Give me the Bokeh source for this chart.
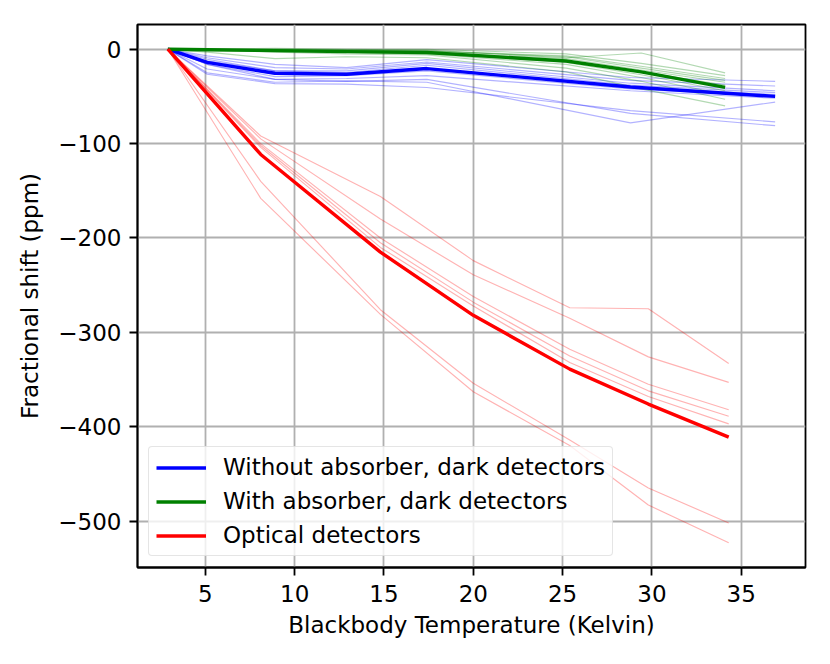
from bokeh.plotting import figure
from bokeh.embed import file_html
from bokeh.resources import INLINE
from bokeh.models import FixedTicker, CustomJSTickFormatter, Range1d, Legend, LegendItem

# ---------------- data ----------------
# Without absorber, dark detectors (blue)
blue_x = [2.9, 5.1, 8.9, 12.9, 17.4, 28.8, 36.9]
blue_thin = [
    [0, -7, -16, -19.5, -11, -30, -34],
    [0, -9, -19.5, -21, -13.5, -33, -39],
    [0, -10.6, -23, -23, -15, -36, -44],
    [0, -12.4, -23, -24.7, -17, -38, -46],
    [0, -14, -26.5, -25.8, -20.5, -40, -48],
    [0, -16, -29, -28, -23, -42, -50],
    [0, -21, -32, -31, -28, -44, -52],
    [0, -25, -35, -33.6, -35, -78, -56],
    [0, -26.5, -36.4, -37, -40.6, -65, -77],
    [0, -16, -32, -34, -32, -68, -81],
]
blue_main = [0, -14, -25.5, -26.5, -20.5, -40, -50]

# With absorber, dark detectors (green)
green_x = [2.9, 5.1, 8.9, 12.9, 17.4, 25.2, 29.4, 34.1]
green_thin = [
    [0, 0, 0, 0, -1, -9, -4, -25],
    [0, 0, 1, 0, 0, -5, -15, -28],
    [0, 0, 0, -1, -2, -7, -18, -31],
    [0, 0, -1, -1, -2, -8, -20, -33],
    [0, -1, -1, -2, -3, -10, -22, -35],
    [0, -1, -1, -2, -3, -12, -24, -38],
    [0, -1, -2, -3, -4, -14, -27, -44],
    [0, -1, -2, -3, -5, -16, -30, -48],
    [0, 0, -3, -5, -6, -20, -34, -53],
    [0, -3, -10, -8, -9, -24, -42, -60],
]
green_main = [0, -0.5, -1.5, -2.5, -3.5, -12.5, -24, -40.5]

# Optical detectors (red)
red_x = [2.9, 8.1, 14.8, 20.0, 25.4, 29.8, 34.3]
red_thin = [
    [0, -92, -156, -224, -274, -275, -333],
    [0, -95, -180, -239, -285, -326, -353],
    [0, -100, -200, -262, -318, -355, -382],
    [0, -102, -205, -268, -325, -362, -389],
    [0, -104, -210, -272, -332, -368, -397],
    [0, -140, -276, -354, -414, -465, -502],
    [0, -158, -281, -363, -420, -483, -523],
]
red_main = [0, -111.5, -215, -282, -339, -376, -411]

labels = ["Without absorber, dark detectors", "With absorber, dark detectors", "Optical detectors"]
x_ticks = [5, 10, 15, 20, 25, 30, 35]
y_ticks = [0, -100, -200, -300, -400, -500]

# ---------------- figure ----------------
FONT = "DejaVu Sans"
FS = "23px"
p = figure(width=814, height=648, output_backend="svg", toolbar_location=None,
           x_range=Range1d(1.2, 38.6), y_range=Range1d(-549.2, 26.2),
           min_border_left=137, min_border_right=9, min_border_top=24, min_border_bottom=81)

p.background_fill_color = "white"
p.border_fill_color = "white"
p.outline_line_color = "black"
p.outline_line_width = 1.8

for ax in (p.xaxis[0], p.yaxis[0]):
    ax.axis_line_width = 1.8
    ax.major_tick_line_width = 1.8
    ax.major_tick_out = 8
    ax.major_tick_in = 0
    ax.minor_tick_out = 0
    ax.minor_tick_in = 0
    ax.major_label_text_font = FONT
    ax.major_label_text_font_size = FS
    ax.major_label_text_color = "black"
    ax.axis_label_text_font = FONT
    ax.axis_label_text_font_size = FS
    ax.axis_label_text_font_style = "normal"
    ax.axis_label_text_color = "black"
    ax.formatter = CustomJSTickFormatter(code="return String(tick).replace('-', '\u2212');")

p.xaxis.ticker = FixedTicker(ticks=x_ticks)
p.yaxis.ticker = FixedTicker(ticks=y_ticks)
p.xaxis.axis_label = "Blackbody Temperature (Kelvin)"
p.yaxis.axis_label = "Fractional shift (ppm)"
p.xaxis.major_label_standoff = 9
p.yaxis.major_label_standoff = 8
p.xaxis.axis_label_standoff = 7
p.yaxis.axis_label_standoff = 12

p.xgrid.ticker = FixedTicker(ticks=x_ticks)
p.ygrid.ticker = FixedTicker(ticks=y_ticks)
p.grid.grid_line_color = "#b0b0b0"
p.grid.grid_line_width = 1.8

# thin lines
for ys in blue_thin:
    p.line(blue_x, ys, line_color="#0000ff", line_width=1.15, line_alpha=0.3)
for ys in green_thin:
    p.line(green_x, ys, line_color="#008000", line_width=1.15, line_alpha=0.3)
for ys in red_thin:
    p.line(red_x, ys, line_color="#ff0000", line_width=1.15, line_alpha=0.3)

# main lines
rb = p.line(blue_x, blue_main, line_color="#0000ff", line_width=3.4)
rg = p.line(green_x, green_main, line_color="#008000", line_width=3.4)
rr = p.line(red_x, red_main, line_color="#ff0000", line_width=3.4)

legend = Legend(items=[LegendItem(label=labels[0], renderers=[rb]),
                       LegendItem(label=labels[1], renderers=[rg]),
                       LegendItem(label=labels[2], renderers=[rr])],
                location="bottom_left")
legend.margin = 11
legend.padding = 7
legend.spacing = 8
legend.label_height = 23
legend.glyph_height = 23
legend.glyph_width = 50
legend.label_standoff = 17
legend.label_text_font = FONT
legend.label_text_font_size = FS
legend.label_text_color = "black"
legend.background_fill_alpha = 0.8
legend.border_line_color = "#cccccc"
legend.border_line_width = 1.8
legend.border_radius = 4
p.add_layout(legend, "center")

open("out.html", "w").write(file_html(p, INLINE))
